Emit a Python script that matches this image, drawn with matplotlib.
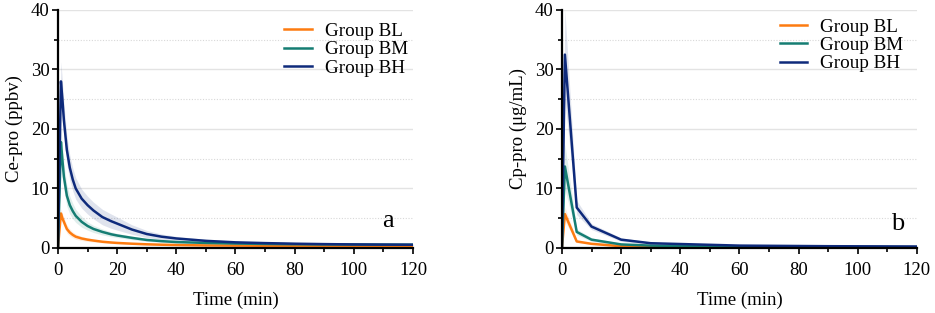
import matplotlib
matplotlib.use("Agg")
import matplotlib.pyplot as plt
import numpy as np

plt.rcParams['font.family'] = ['Liberation Serif', 'DejaVu Serif']

# ---- data: panel a (Ce-pro, ppbv) ----
t_a = [0, 0.5, 1, 1.5, 2, 3, 4, 5, 6, 8, 10, 12, 15, 18, 20, 25, 30, 35, 40,
       50, 60, 70, 80, 90, 100, 110, 120]
bh_a = [0, 14, 28, 25, 21.5, 16.5, 13.5, 11.5, 10, 8.3, 7.2, 6.3, 5.2, 4.5, 4.1,
        3.1, 2.35, 1.9, 1.6, 1.2, 0.95, 0.82, 0.72, 0.65, 0.6, 0.57, 0.55]
bm_a = [0, 9, 17.8, 14.8, 12, 8.8, 7.2, 6.2, 5.4, 4.4, 3.7, 3.2, 2.7, 2.3, 2.1,
        1.7, 1.35, 1.15, 1.0, 0.85, 0.75, 0.68, 0.63, 0.6, 0.58, 0.56, 0.55]
bl_a = [0, 3, 5.8, 5.0, 4.4, 3.2, 2.6, 2.2, 1.9, 1.6, 1.4, 1.25, 1.05, 0.92, 0.85,
        0.72, 0.62, 0.55, 0.5, 0.43, 0.4, 0.37, 0.35, 0.33, 0.32, 0.31, 0.3]
bh_a_sd = [0, 2, 3.3, 3, 2.8, 2.4, 2.1, 1.9, 1.8, 1.6, 1.5, 1.4, 1.3, 1.2, 1.1,
           0.8, 0.6, 0.45, 0.35, 0.25, 0.2, 0.15, 0.12, 0.1, 0.1, 0.1, 0.1]
bm_a_sd = [0, 1.5, 2.5, 2.4, 2.2, 1.8, 1.5, 1.3, 1.1, 0.9, 0.7, 0.6, 0.5, 0.4, 0.35,
           0.3, 0.25, 0.2, 0.15, 0.12, 0.1, 0.1, 0.1, 0.1, 0.1, 0.1, 0.1]
bl_a_sd = [0, 0.5, 0.8, 0.8, 0.75, 0.7, 0.6, 0.5, 0.45, 0.35, 0.3, 0.25, 0.2, 0.18,
           0.15, 0.12, 0.1, 0.1, 0.08, 0.06, 0.05, 0.05, 0.05, 0.05, 0.05, 0.05, 0.05]

# ---- data: panel b (Cp-pro, ug/mL) ----
t_b = [0, 1, 5, 10, 20, 30, 45, 60, 90, 120]
bh_b = [0, 32.5, 6.8, 3.6, 1.4, 0.8, 0.6, 0.4, 0.3, 0.25]
bm_b = [0, 13.7, 2.7, 1.4, 0.6, 0.4, 0.3, 0.25, 0.2, 0.15]
bl_b = [0, 5.7, 1.1, 0.7, 0.3, 0.2, 0.15, 0.12, 0.1, 0.1]
bh_b_sd = [0, 7.5, 1.2, 0.5, 0.3, 0.2, 0.1, 0.08, 0.06, 0.05]
bm_b_sd = [0, 3.8, 0.5, 0.3, 0.2, 0.1, 0.08, 0.06, 0.05, 0.05]
bl_b_sd = [0, 1.2, 0.2, 0.1, 0.06, 0.05, 0.04, 0.03, 0.03, 0.03]

labels = ["Group BL", "Group BM", "Group BH"]
colors = ["#FD7B10", "#157D73", "#0E2A7B"]

fig = plt.figure(figsize=(9.35, 3.13), dpi=100)
ax1 = fig.add_axes([0.062, 0.2077, 0.3797, 0.7604])
ax2 = fig.add_axes([0.601, 0.2077, 0.3797, 0.7604])


def draw(ax, t, series, sds, ylabel, letter, leg_xy, letter_xy):
    t = np.asarray(t)
    for y, sd, c in zip(series, sds, colors):
        y = np.asarray(y); sd = np.asarray(sd)
        ax.fill_between(t, y - sd, y + sd, color=c, alpha=0.13, lw=0, zorder=2)
    for y, c, lab in zip(series, colors, labels):
        ax.plot(t, y, color=c, lw=1.8, label=lab, zorder=3)
    ax.set_xlim(0, 120)
    ax.set_ylim(0, 40)
    ax.set_xticks(np.arange(0, 121, 20))
    ax.set_xticks(np.arange(10, 121, 20), minor=True)
    ax.set_yticks(np.arange(0, 41, 10))
    ax.set_yticks(np.arange(5, 40, 10), minor=True)
    for v in [10, 20, 30, 40]:
        ax.axhline(v, color="#e3e3e3", lw=1.0, zorder=1)
    for v in [5, 15, 25, 35]:
        ax.axhline(v, color="#d8d8d8", lw=0.8, ls=(0, (1, 1.5)), zorder=1)
    for s in ["top", "right"]:
        ax.spines[s].set_visible(False)
    for s in ["left", "bottom"]:
        ax.spines[s].set_linewidth(1.6)
        ax.spines[s].set_zorder(4)
    ax.tick_params(which="major", length=4, width=1.2, labelsize=13.5)
    ax.tick_params(axis="x", which="major", pad=6)
    ax.tick_params(axis="y", which="major", pad=2)
    ax.tick_params(which="minor", length=3, width=1.2)
    ax.set_xlabel("Time (min)", fontsize=13.5, labelpad=9)
    ax.set_ylabel(ylabel, fontsize=13.5, labelpad=6)
    ax.legend(loc="upper left", bbox_to_anchor=leg_xy, frameon=False,
              fontsize=13.8, handlelength=1.45, handletextpad=0.65,
              labelspacing=0.05, borderpad=0, borderaxespad=0)
    ax.text(letter_xy[0], letter_xy[1], letter, transform=ax.transAxes,
            fontsize=19, ha="center", va="center")


draw(ax1, t_a, [bl_a, bm_a, bh_a], [bl_a_sd, bm_a_sd, bh_a_sd],
     "Ce-pro (ppbv)", "a", (0.638, 0.947), (0.93, 0.115))
draw(ax2, t_b, [bl_b, bm_b, bh_b], [bl_b_sd, bm_b_sd, bh_b_sd],
     "Cp-pro (\u03bcg/mL)", "b", (0.613, 0.965), (0.945, 0.10))

fig.savefig("out.png", dpi=100)
